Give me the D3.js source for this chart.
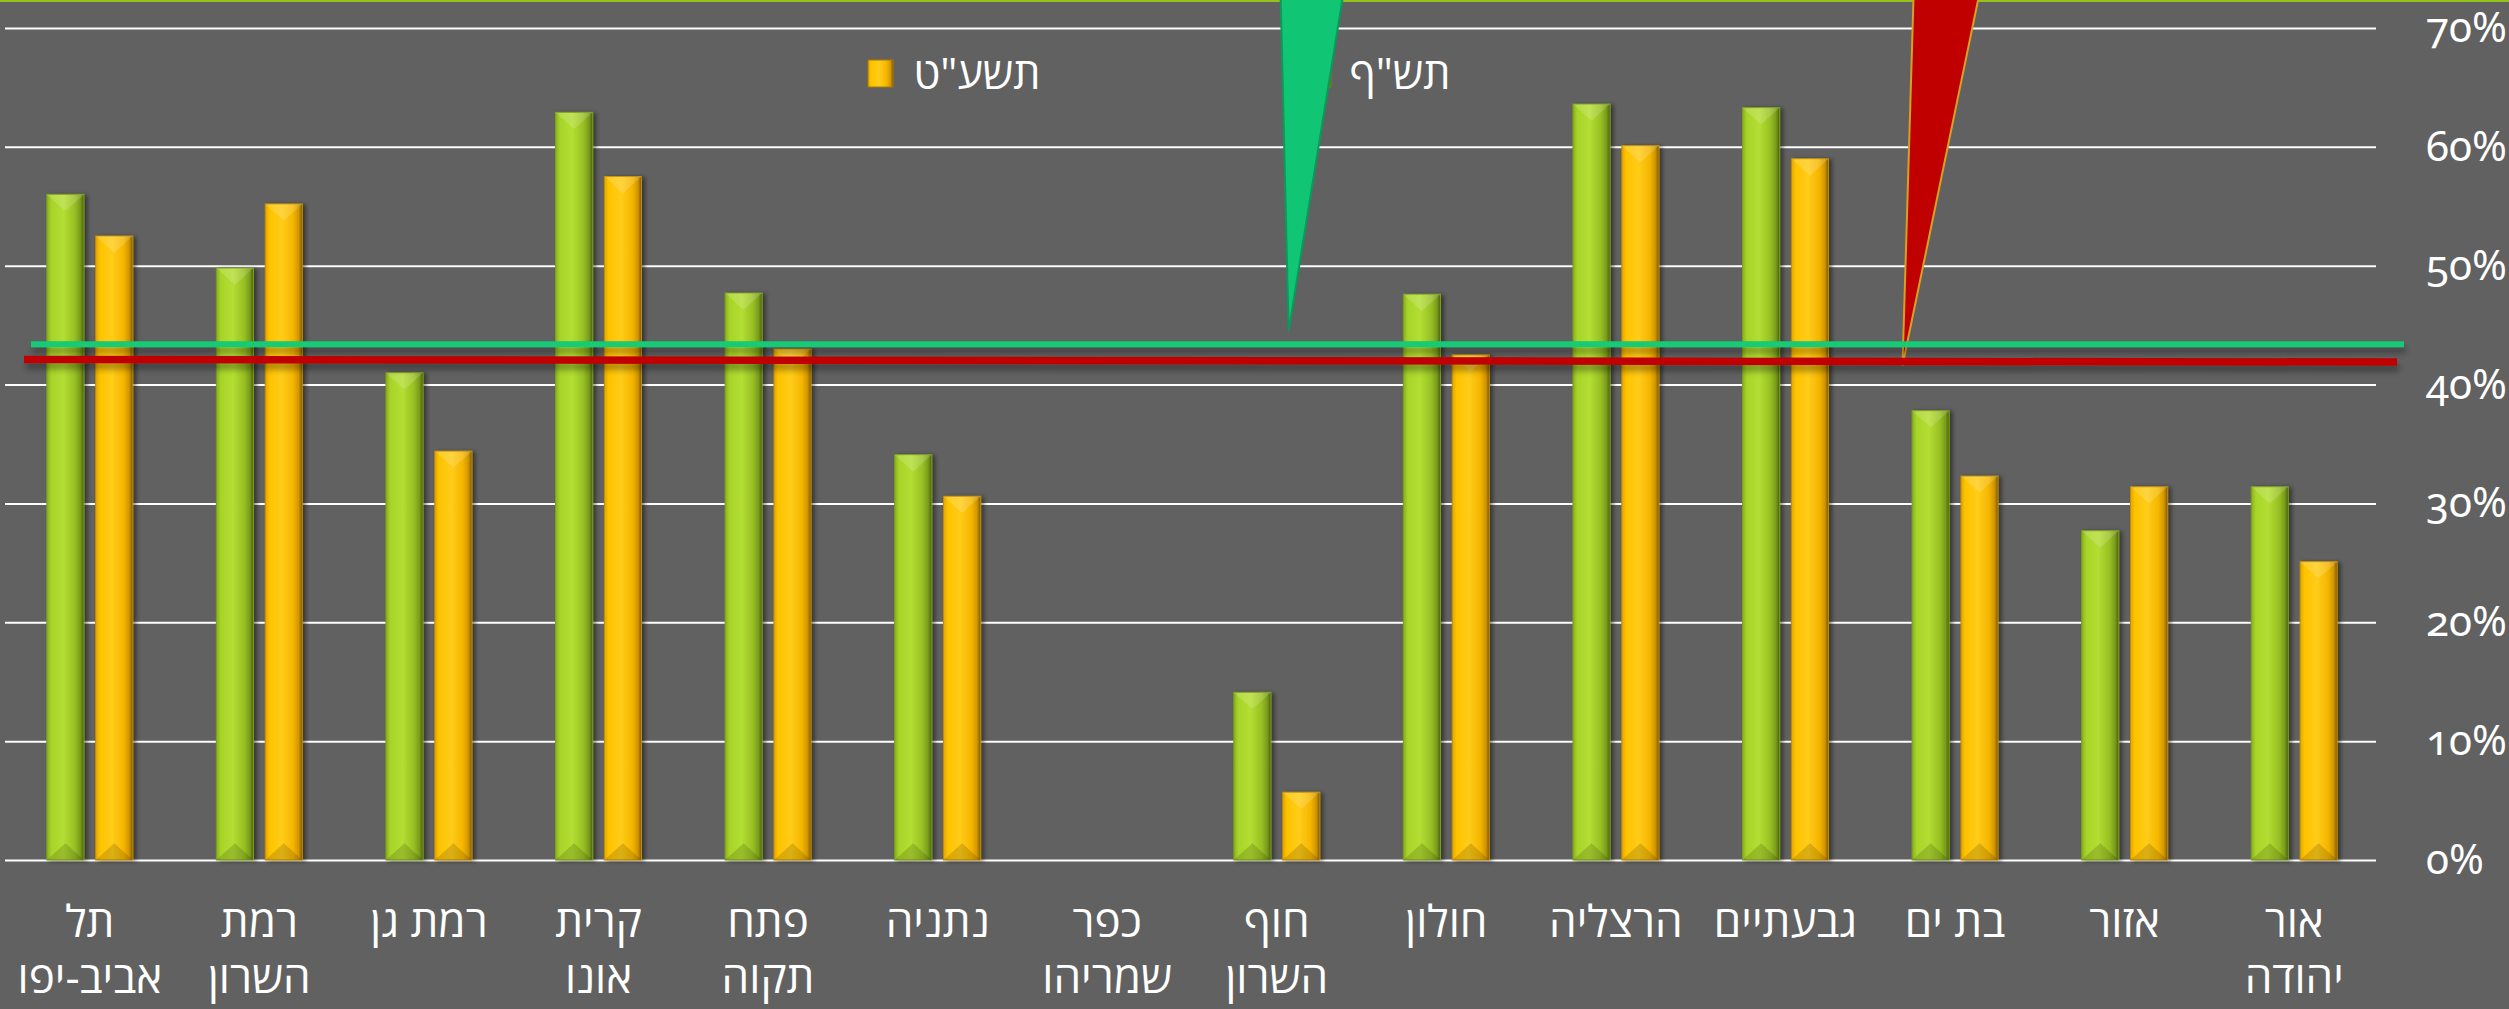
<!DOCTYPE html>
<html>
<head>
<meta charset="utf-8">
<script src="https://cdn.jsdelivr.net/npm/d3@7"></script>
<style>
  html, body { margin: 0; padding: 0; background: #616161; }
  svg { display: block; }
  .cat, .legend-text { font-family: "Open Sans", "DejaVu Sans", sans-serif; fill: #fff; }
  .y-axis text { font-family: "Noto Sans", "Open Sans", sans-serif; font-variant-numeric: oldstyle-nums; fill: #fff; }
</style>
</head>
<body>
<div id="chart"></div>
<script>
// data (percent)
const categories = ['תל אביב-יפו', 'רמת השרון', 'רמת גן', 'קרית אונו', 'פתח תקוה', 'נתניה', 'כפר שמריהו',
  'חוף השרון', 'חולון', 'הרצליה', 'גבעתיים', 'בת ים', 'אזור', 'אור יהודה'];
const seriesNames = ['תש"ף', 'תשע"ט'];
const valuesTashaf = [56.0, 49.8, 41.0, 62.9, 47.7, 34.1, 0, 14.1, 47.6, 63.6, 63.3, 37.8, 27.7, 31.4];
const valuesTashat = [52.5, 55.2, 34.4, 57.5, 43.0, 30.6, 0, 5.7, 42.5, 60.1, 59.0, 32.3, 31.4, 25.1];
const yTicks = [0, 10, 20, 30, 40, 50, 60, 70];
// average lines (start and end value)
const avgTashaf = [43.4, 43.4];
const avgTashat = [42.1, 41.9];
// callout pointers: tip position as category index and value
const calloutTips = [{ at: 7.57, value: 44.5 }, { at: 11.19, value: 41.6 }];

const width = 2509;
const height = 1009;
const plot = { left: 5, right: 2379, top: 28, bottom: 860 };

const svg = d3.select('#chart')
  .append('svg')
  .attr('width', width)
  .attr('height', height);

const defs = svg.append('defs');

// bar gradients
const gradStops = [
  [['0', '#86AE1E'], ['0.12', '#A8D42A'], ['0.45', '#B3DE32'], ['0.75', '#98C024'], ['0.9', '#7A9C1C'], ['1', '#4A6010']],
  [['0', '#E2A600'], ['0.12', '#FFC300'], ['0.45', '#FFCC18'], ['0.75', '#F5B600'], ['0.9', '#D29600'], ['1', '#7A5800']]
];
gradStops.forEach((stops, i) => {
  const g = defs.append('linearGradient').attr('id', 'grad-' + i)
    .attr('x1', 0).attr('x2', 1).attr('y1', 0).attr('y2', 0);
  stops.forEach(s => g.append('stop').attr('offset', s[0]).attr('stop-color', s[1]));
});

defs.append('filter').attr('id', 'shadow').attr('x', '-20%').attr('y', '-20%').attr('width', '140%').attr('height', '140%')
  .append('feDropShadow').attr('dx', 3).attr('dy', 1).attr('stdDeviation', 2)
  .attr('flood-color', '#000').attr('flood-opacity', 0.45);

// user space filter so a flat line keeps its shadow
defs.append('filter').attr('id', 'lineShadow')
  .attr('filterUnits', 'userSpaceOnUse')
  .attr('x', 0).attr('y', 0).attr('width', width).attr('height', height)
  .append('feDropShadow').attr('dx', 2).attr('dy', 6).attr('stdDeviation', 3)
  .attr('flood-color', '#000').attr('flood-opacity', 0.35);

// background
svg.append('rect').attr('width', width).attr('height', height).attr('fill', '#616161');
svg.append('rect').attr('width', width).attr('height', 2).attr('fill', '#96C21E');

// scales
const x = d3.scaleBand()
  .domain(categories)
  .range([plot.left, plot.right])
  .padding(0);

const y = d3.scaleLinear()
  .domain([0, 70])
  .range([plot.bottom, plot.top]);

const xSeries = d3.scaleBand()
  .domain(seriesNames)
  .range([x.step() / 2 - 43, x.step() / 2 + 43])
  .paddingInner(0.24);

// gridlines
svg.append('g')
  .attr('class', 'grid')
  .attr('transform', `translate(${plot.left},0)`)
  .call(d3.axisLeft(y).tickValues(yTicks).tickSize(-(plot.right - plot.left - 3)).tickFormat(''))
  .call(g => g.select('.domain').remove())
  .call(g => g.selectAll('line').attr('stroke', '#fff').attr('stroke-width', 2));

// y labels on the right
svg.append('g')
  .attr('class', 'y-axis')
  .attr('transform', `translate(${plot.right},0)`)
  .call(d3.axisRight(y).tickValues(yTicks).tickSize(0).tickPadding(47).tickFormat(d => d + '%'))
  .call(g => g.select('.domain').remove())
  .call(g => g.selectAll('text').attr('font-size', 42));

// bars
const series = [valuesTashaf, valuesTashat];
const groups = svg.append('g').attr('class', 'bars')
  .selectAll('g')
  .data(categories)
  .join('g')
  .attr('transform', d => `translate(${x(d)},0)`);

groups.each(function (cat, ci) {
  const g = d3.select(this);
  series.forEach((vals, si) => {
    const v = vals[ci];
    if (!v) return;
    const bx = xSeries(seriesNames[si]);
    const bw = xSeries.bandwidth();
    const top = y(v);
    const bottom = y(0);
    const bar = g.append('g').attr('filter', 'url(#shadow)');
    bar.append('rect')
      .attr('x', bx).attr('y', top)
      .attr('width', bw).attr('height', bottom - top)
      .attr('fill', `url(#grad-${si})`)
      .attr('stroke', si === 0 ? '#7C9F1A' : '#C08C00')
      .attr('stroke-width', 1);
    const cap = Math.min(bw * 0.45, (bottom - top) / 2);
    bar.append('polygon')
      .attr('points', [[bx, top], [bx + bw, top], [bx + bw / 2, top + cap]].join(' '))
      .attr('fill', '#fff').attr('opacity', 0.16);
    bar.append('polygon')
      .attr('points', [[bx, bottom], [bx + bw / 2, bottom - cap], [bx + bw, bottom]].join(' '))
      .attr('fill', '#000').attr('opacity', 0.14);
  });
});

// category labels, wrapped to the band width
const catLabels = svg.append('g').attr('class', 'x-axis')
  .selectAll('text')
  .data(categories)
  .join('text')
  .attr('class', 'cat')
  .attr('x', d => x(d) + x.bandwidth() / 2)
  .attr('y', 937)
  .attr('text-anchor', 'middle')
  .attr('font-size', 44);

catLabels.each(function (d) {
  const t = d3.select(this);
  const words = d.split(' ');
  const lines = [];
  let cur = '';
  words.forEach(w => {
    const test = cur ? cur + ' ' + w : w;
    t.text(test);
    if (cur && this.getComputedTextLength() > x.step() - 12) {
      lines.push(cur);
      cur = w;
    } else {
      cur = test;
    }
  });
  lines.push(cur);
  t.text(null);
  lines.forEach((ln, i) => {
    t.append('tspan')
      .attr('x', x(d) + x.bandwidth() / 2)
      .attr('dy', i === 0 ? 0 : 56)
      .text(ln);
  });
});

// legend
const legendItems = [
  { name: seriesNames[1], grad: 1, mx: 868, tx: 977 },
  { name: seriesNames[0], grad: 0, mx: 1306, tx: 1400 }
];
const legend = svg.append('g').attr('class', 'legend');
legendItems.forEach(item => {
  legend.append('rect')
    .attr('x', item.mx).attr('y', 60).attr('width', 25).attr('height', 27)
    .attr('fill', `url(#grad-${item.grad})`)
    .attr('stroke', item.grad === 0 ? '#6A8A16' : '#A87A00');
  legend.append('text')
    .attr('class', 'legend-text')
    .attr('x', item.tx).attr('y', 89)
    .attr('text-anchor', 'middle')
    .attr('font-size', 43)
    .text(item.name);
});

// callout pointers coming from above
const xIndex = d3.scaleLinear().domain([0, categories.length]).range([plot.left, plot.right]);
const calloutStyle = [
  { fill: '#10C675', stroke: '#0A9A5A', dx0: -8, dx1: 54 },
  { fill: '#C00000', stroke: '#D9A020', dx0: 11, dx1: 76 }
];
calloutTips.forEach((c, i) => {
  const s = calloutStyle[i];
  const tx = xIndex(c.at);
  const ty = y(c.value);
  svg.append('polygon')
    .attr('class', 'callout')
    .attr('points', [[tx + s.dx0, -2], [tx + s.dx1, -2], [tx, ty]].join(' '))
    .attr('fill', s.fill)
    .attr('stroke', s.stroke)
    .attr('stroke-width', 2);
});

// average lines
const avgLines = [
  { vals: avgTashaf, color: '#12CA76', w: 6, x0: 26, x1: 25 },
  { vals: avgTashat, color: '#C00000', w: 7.5, x0: 19, x1: 18 }
];
avgLines.forEach(a => {
  svg.append('line')
    .attr('x1', plot.left + a.x0).attr('x2', plot.right + a.x1)
    .attr('y1', y(a.vals[0])).attr('y2', y(a.vals[1]))
    .attr('stroke', a.color)
    .attr('stroke-width', a.w)
    .attr('filter', 'url(#lineShadow)');
});
</script>
</body>
</html>
